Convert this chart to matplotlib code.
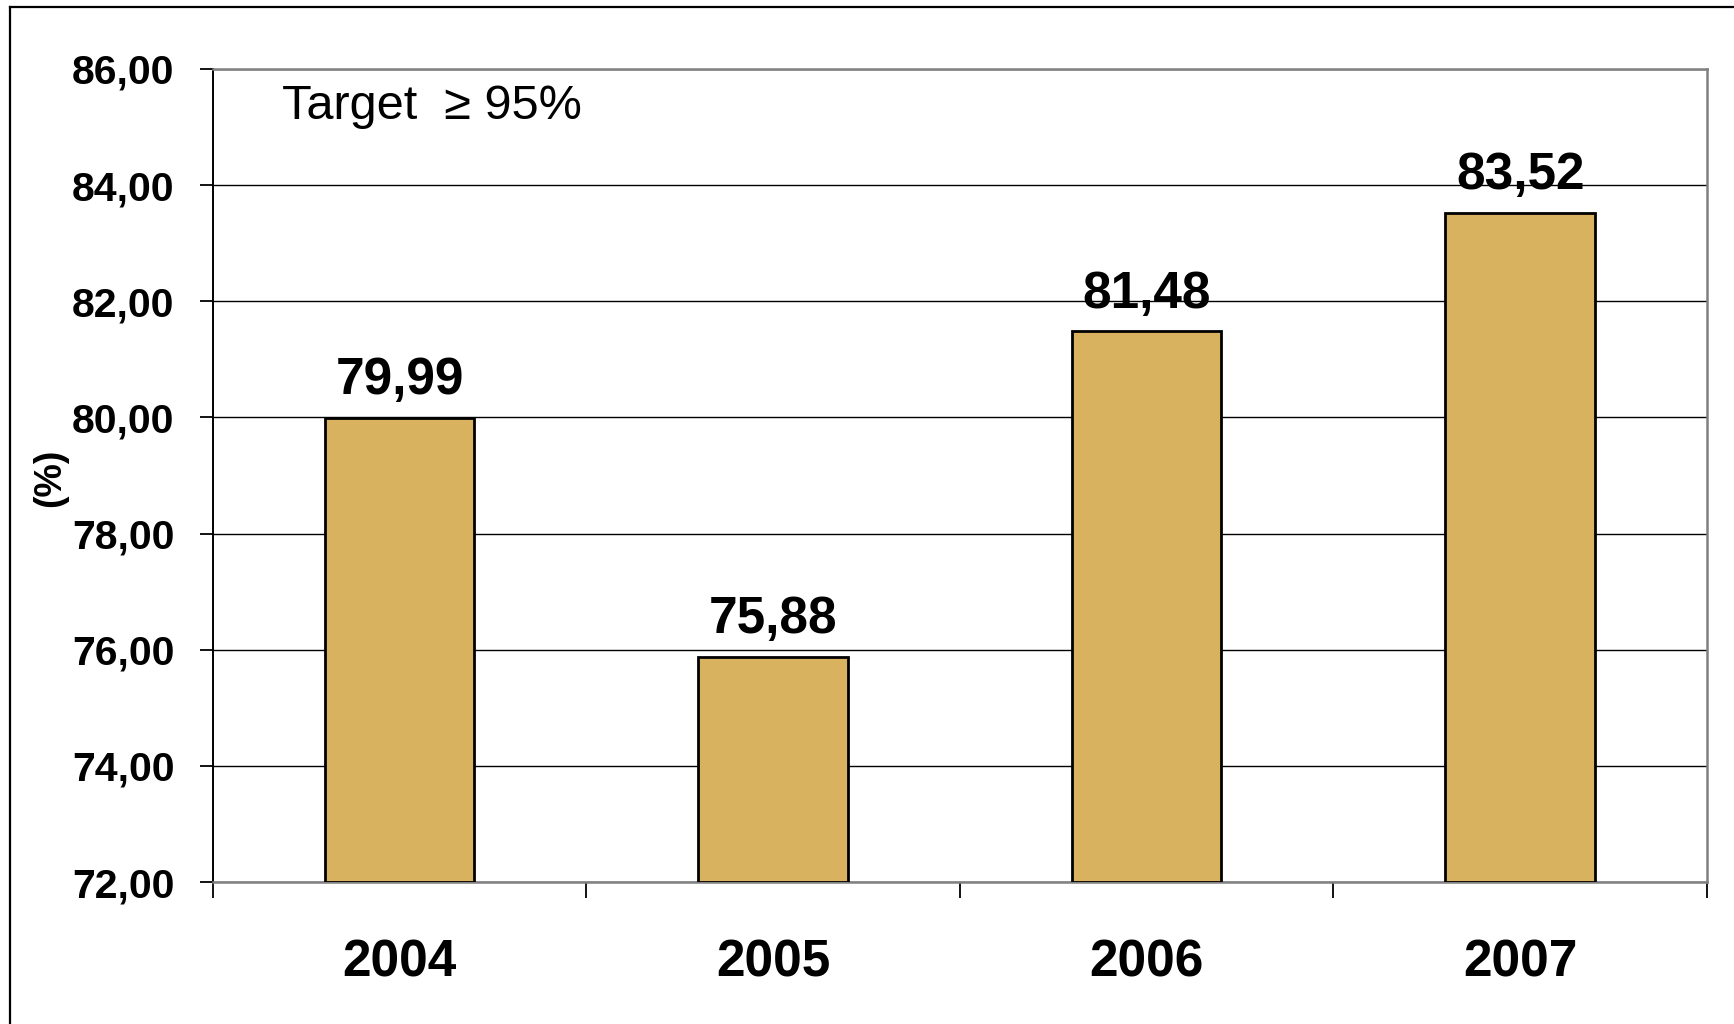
import numpy as np
import matplotlib.pyplot as plt
from matplotlib.lines import Line2D
from matplotlib.ticker import FuncFormatter

# yearly percentages
years = ["2004", "2005", "2006", "2007"]
values = [79.99, 75.88, 81.48, 83.52]
y_ticks = [72, 74, 76, 78, 80, 82, 84, 86]
target_text = "Target  \u2265 95%"

plt.rcParams["font.family"] = ["Liberation Sans", "DejaVu Sans"]

W, H = 1734, 1024
fig = plt.figure(figsize=(W / 100, H / 100), dpi=100)
ax = fig.add_axes([212.7 / W, 1 - 882 / H, (1707 - 212.7) / W, (882 - 69) / H])

x = np.arange(len(years))
y_min, y_max = y_ticks[0], y_ticks[-1]
ax.bar(x, np.array(values) - y_min, bottom=y_min, width=0.4,
       color="#D8B25E", edgecolor="black", linewidth=2.0, zorder=3)

for xi, v in zip(x, values):
    ax.annotate(f"{v:.2f}".replace(".", ","), (xi, v), xytext=(0, 17),
                textcoords="offset points", ha="center", va="baseline",
                fontsize=37, fontweight="bold", zorder=4)

ax.set_xlim(-0.5, len(years) - 0.5)
ax.set_ylim(y_min, y_max)

# y axis with comma decimals
ax.set_yticks(y_ticks)
ax.yaxis.set_major_formatter(FuncFormatter(lambda v, p: f"{v:.2f}".replace(".", ",")))
ax.tick_params(axis="y", direction="out", length=9.5, width=1.3, pad=18,
               labelsize=29.5)
for lab in ax.get_yticklabels():
    lab.set_fontweight("bold")

# years centred, tick marks on category boundaries
ax.set_xticks(x)
ax.set_xticklabels(years, fontsize=37, fontweight="bold")
ax.tick_params(axis="x", which="major", length=0, pad=41)
ax.set_xticks(np.arange(-0.5, len(years)), minor=True)
ax.tick_params(axis="x", which="minor", direction="out", length=11.5, width=1.3)

ax.yaxis.grid(True, color="black", linewidth=1.0, zorder=0)
ax.set_axisbelow(True)

ax.spines["left"].set_color("black")
ax.spines["left"].set_linewidth(1.4)
for side in ["top", "right", "bottom"]:
    ax.spines[side].set_color("#808080")
    ax.spines[side].set_linewidth(1.8)

fig.text(50 / W, 1 - 478 / H, "(%)", rotation=90, ha="center", va="center",
         fontsize=27, fontweight="bold")
fig.text(282 / W, 1 - 119 / H, target_text, ha="left", va="baseline",
         fontsize=35)

# outer frame (top and left edges)
fig.add_artist(Line2D([9.5 / W, 1], [1 - 6.5 / H, 1 - 6.5 / H],
                      transform=fig.transFigure, color="black", linewidth=1.6))
fig.add_artist(Line2D([9.5 / W, 9.5 / W], [0, 1 - 6.5 / H],
                      transform=fig.transFigure, color="black", linewidth=1.6))

fig.savefig("out.png", dpi=100)
